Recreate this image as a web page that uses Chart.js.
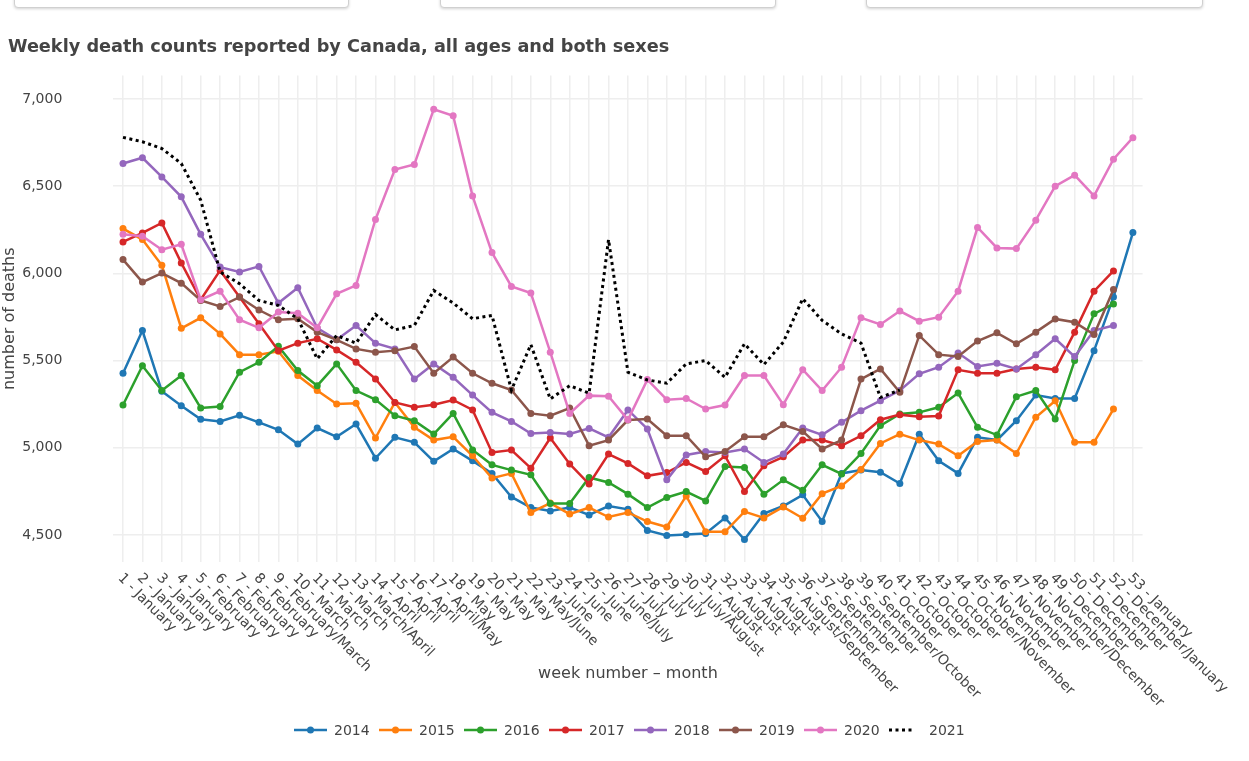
<!DOCTYPE html>
<html><head><meta charset="utf-8">
<script src="https://cdn.jsdelivr.net/npm/chart.js@4.4.1/dist/chart.umd.min.js"></script>
<style>
html,body{margin:0;padding:0;background:#fff;}
#wrap{position:relative;width:1249px;height:761px;overflow:hidden;}
.dd{position:absolute;top:-30px;height:36px;border:1px solid #d0d0d0;border-radius:4px;box-shadow:0 1px 3px rgba(0,0,0,0.18);background:#fff;}
canvas{position:absolute;left:0;top:0;}
</style></head>
<body><div id="wrap">
<div class="dd" style="left:14px;width:333px"></div>
<div class="dd" style="left:440px;width:334px"></div>
<div class="dd" style="left:866px;width:335px"></div>
<canvas id="c" width="1249" height="761"></canvas></div>
<script>
const weeks = [1,2,3,4,5,6,7,8,9,10,11,12,13,14,15,16,17,18,19,20,21,22,23,24,25,26,27,28,29,30,31,32,33,34,35,36,37,38,39,40,41,42,43,44,45,46,47,48,49,50,51,52,53];
const months = ["January","January","January","January","February","February","February","February","February/March",
 "March","March","March","March/April","April","April","April","April/May","May","May","May","May","May/June",
 "June","June","June","June/July","July","July","July","July/August","August","August","August","August","August/September",
 "September","September","September","September/October","October","October","October","October","October/November",
 "November","November","November","November/December","December","December","December","December/January","January"];
const yTicks = [4500,5000,5500,6000,6500,7000];
const years = ["2014","2015","2016","2017","2018","2019","2020","2021"];
const colors = ["#1f77b4","#ff7f0e","#2ca02c","#d62728","#9467bd","#8c564b","#e377c2","#000000"];

const d2014 = [5427,5672,5324,5241,5163,5151,5186,5146,5103,5021,5113,5063,5136,4940,5060,5031,4922,4993,4925,4853,4718,4657,4637,4657,4615,4666,4647,4526,4497,4503,4509,4598,4474,4623,4666,4730,4577,4853,4872,4860,4795,5078,4925,4853,5060,5044,5155,5302,5283,5283,5557,5864,6234];
const d2015 = [6257,6194,6046,5685,5745,5653,5534,5534,5553,5414,5328,5251,5255,5056,5260,5117,5044,5063,4954,4826,4853,4629,4683,4620,4657,4603,4629,4577,4546,4724,4518,4518,4634,4598,4661,4596,4737,4781,4876,5025,5078,5044,5021,4954,5036,5044,4967,5175,5270,5031,5031,5222];
const d2016 = [5245,5470,5328,5414,5228,5236,5433,5490,5582,5443,5356,5481,5328,5276,5184,5155,5079,5197,4987,4902,4872,4845,4681,4681,4830,4801,4734,4657,4715,4749,4695,4893,4887,4734,4816,4756,4902,4850,4967,5127,5194,5203,5232,5314,5117,5073,5293,5328,5165,5500,5768,5825];
const d2017 = [6180,6232,6289,6060,5849,6017,5864,5711,5557,5600,5625,5561,5490,5395,5260,5232,5247,5274,5217,4973,4987,4883,5056,4907,4792,4964,4910,4839,4858,4916,4864,4954,4749,4897,4948,5044,5044,5012,5069,5161,5190,5178,5182,5447,5427,5427,5452,5462,5447,5663,5898,6014];
const d2018 = [6630,6663,6553,6439,6224,6036,6008,6040,5830,5918,5687,5619,5701,5600,5567,5394,5481,5404,5302,5203,5151,5082,5088,5079,5111,5060,5217,5108,4816,4959,4979,4973,4993,4916,4964,5113,5074,5146,5213,5270,5328,5424,5462,5543,5466,5485,5452,5534,5625,5523,5672,5701];
const d2019 = [6079,5950,6002,5944,5845,5810,5864,5790,5734,5740,5663,5619,5567,5548,5557,5580,5427,5520,5427,5370,5331,5197,5184,5228,5012,5044,5159,5165,5069,5069,4948,4979,5063,5063,5132,5094,4993,5044,5394,5452,5318,5644,5534,5523,5612,5659,5596,5663,5739,5720,5649,5907];
const d2020 = [6224,6213,6136,6167,5849,5898,5734,5688,5778,5772,5688,5883,5931,6309,6596,6625,6941,6904,6443,6119,5925,5887,5548,5197,5299,5295,5160,5391,5276,5283,5222,5245,5414,5414,5247,5448,5328,5462,5745,5707,5784,5726,5749,5898,6263,6146,6142,6305,6500,6563,6444,6655,6778];
const d2021 = [6780,6755,6716,6630,6420,6008,5941,5845,5816,5740,5510,5644,5600,5764,5676,5701,5902,5830,5740,5759,5331,5592,5280,5356,5313,6194,5433,5389,5370,5481,5500,5404,5596,5477,5606,5855,5730,5653,5600,5289,5331];

const series = [d2014,d2015,d2016,d2017,d2018,d2019,d2020,d2021];
const xLabels = weeks.map((w,i)=> w + " - " + months[i]);
const FONT = '"DejaVu Sans", Verdana, sans-serif';

const datasets = series.map((data,i)=>{
  const isDot = years[i] === "2021";
  return {
    label: years[i],
    data: data,
    borderColor: colors[i],
    backgroundColor: colors[i],
    borderWidth: isDot ? 3 : 2.5,
    borderDash: isDot ? [3,3.5] : [],
    pointRadius: isDot ? 0 : 3.5,
    pointHoverRadius: isDot ? 0 : 4,
    pointBorderWidth: 0,
    tension: 0,
    fill: false,
    order: series.length - 1 - i
  };
});

const xLabelPlugin = {
  id: 'xlabels',
  afterDraw(chart) {
    const {ctx, chartArea} = chart;
    const x = chart.scales.x;
    ctx.save();
    ctx.font = '14px ' + FONT;
    ctx.fillStyle = '#444';
    ctx.textAlign = 'left';
    ctx.textBaseline = 'middle';
    xLabels.forEach((lab,i)=>{
      const px = x.getPixelForValue(i);
      ctx.save();
      ctx.translate(px - 3, chartArea.bottom + 14);
      ctx.rotate(Math.PI/4);
      ctx.fillText(lab, 0, 0);
      ctx.restore();
    });
    ctx.restore();
  }
};

const legendPlugin = {
  id: 'customLegend',
  afterDraw(chart) {
    const {ctx} = chart;
    const y = 730;
    ctx.save();
    ctx.font = '14px ' + FONT;
    ctx.textBaseline = 'middle';
    ctx.textAlign = 'left';
    chart.data.datasets.forEach((ds,i)=>{
      const x0 = 294 + i*85;
      ctx.strokeStyle = ds.borderColor;
      ctx.lineWidth = ds.borderWidth;
      ctx.setLineDash(ds.borderDash || []);
      ctx.beginPath();
      if (ds.borderDash && ds.borderDash.length) { ctx.moveTo(x0, y); ctx.lineTo(x0+26, y); }
      else { ctx.moveTo(x0, y); ctx.lineTo(x0+33, y); }
      ctx.stroke();
      ctx.setLineDash([]);
      if (ds.pointRadius > 0) {
        ctx.fillStyle = ds.backgroundColor;
        ctx.beginPath(); ctx.arc(x0+16.5, y, 3.5, 0, Math.PI*2); ctx.fill();
      }
      ctx.fillStyle = '#444';
      ctx.fillText(ds.label, x0 + 40, y + 1);
    });
    ctx.restore();
  }
};

new Chart(document.getElementById('c'), {
  type: 'line',
  data: { labels: xLabels, datasets: datasets },
  options: {
    responsive: false,
    animation: false,
    layout: { padding: { left: 8, right: 106.4, top: 0, bottom: 78 } },
    plugins: {
      legend: { display: false },
      tooltip: { enabled: false },
      title: {
        display: true,
        text: 'Weekly death counts reported by Canada, all ages and both sexes',
        align: 'start',
        color: '#444',
        font: { family: FONT, size: 17.7, weight: 'bold', lineHeight: 1.2 },
        padding: { top: 36.5, bottom: 17.7 }
      }
    },
    scales: {
      x: {
        type: 'category',
        offset: true,
        grid: { offset: false, color: '#eeeeee', lineWidth: 1.5, drawTicks: false },
        border: { display: false },
        ticks: { display: false, autoSkip: false },
        title: { display: true, text: 'week number – month', color: '#444',
                 font: { family: FONT, size: 16, lineHeight: 1.2 }, padding: { top: 0, bottom: 0 } },
        afterFit(s) { s.height = 121; }
      },
      y: {
        min: 4345, max: 7135,
        grid: { color: '#eeeeee', lineWidth: 1.5, drawTicks: false },
        border: { display: false },
        afterBuildTicks(s) { s.ticks = yTicks.map(v=>({value:v})); },
        ticks: { color: '#444', font: { family: FONT, size: 14 }, padding: 51,
                 callback: v => Number(v).toLocaleString('en-US') },
        title: { display: true, text: 'number of deaths', color: '#444',
                 font: { family: FONT, size: 16, lineHeight: 1.2 }, padding: { top: -7.6, bottom: 0 } },
        afterFit(s) { s.width = 105.3; }
      }
    }
  },
  plugins: [xLabelPlugin, legendPlugin]
});
</script>
</body></html>
